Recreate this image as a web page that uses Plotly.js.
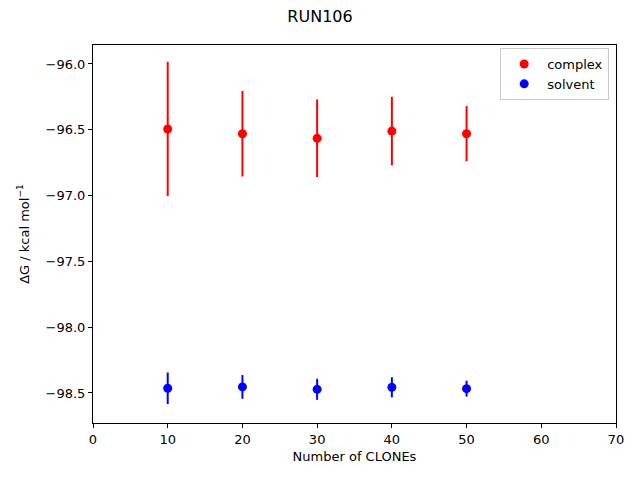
<!DOCTYPE html>
<html>
<head>
<meta charset="utf-8">
<script src="https://cdn.plot.ly/plotly-3.0.1.min.js"></script>
<style>html,body{margin:0;padding:0;background:#fff;}</style>
</head>
<body>
<div id="chart" style="width:640px;height:480px;"></div>
<script>
const clones = [10, 20, 30, 40, 50];
const complexDG = [-96.494, -96.53, -96.565, -96.51, -96.53];
const complexErr = [0.51, 0.325, 0.295, 0.26, 0.21];
const solventDG = [-98.464, -98.454, -98.472, -98.457, -98.467];
const solventErr = [0.12, 0.09, 0.08, 0.076, 0.06];

const font = {family: 'DejaVu Sans', size: 13, color: '#000'};

const traces = [
  {
    x: clones, y: complexDG, name: 'complex', type: 'scatter', mode: 'markers',
    marker: {color: 'red', size: 9},
    error_y: {type: 'data', array: complexErr, visible: true, color: 'red', thickness: 2, width: 0}
  },
  {
    x: clones, y: solventDG, name: 'solvent', type: 'scatter', mode: 'markers',
    marker: {color: 'blue', size: 9},
    error_y: {type: 'data', array: solventErr, visible: true, color: 'blue', thickness: 2, width: 0}
  }
];

const layout = {
  width: 640, height: 480,
  margin: {l: 93, r: 24, t: 45, b: 57},
  paper_bgcolor: '#fff', plot_bgcolor: '#fff',
  font: font,
  title: {text: 'RUN106', font: {family: 'DejaVu Sans', size: 16, color: '#000'}, x: 0.5, xanchor: 'center', y: 0.965, yanchor: 'middle'},
  showlegend: true,
  legend: {
    x: 0.987, y: 0.992, xanchor: 'right', yanchor: 'top',
    bgcolor: '#fff', bordercolor: '#cccccc', borderwidth: 1,
    font: {family: 'DejaVu Sans', size: 13, color: '#000'},
    itemwidth: 36
  },
  xaxis: {
    range: [0, 70], tickvals: [0, 10, 20, 30, 40, 50, 60, 70],
    ticks: 'outside', ticklen: 4, tickcolor: '#000', tickwidth: 1,
    showline: true, linecolor: '#000', linewidth: 1, mirror: true,
    showgrid: false, zeroline: false,
    title: {text: 'Number of CLONEs', font: {family: 'DejaVu Sans', size: 13, color: '#000'}, standoff: 6},
    tickfont: font
  },
  yaxis: {
    range: [-98.728, -95.856], tickvals: [-98.5, -98.0, -97.5, -97.0, -96.5, -96.0],
    ticktext: ['−98.5', '−98.0', '−97.5', '−97.0', '−96.5', '−96.0'],
    ticks: 'outside', ticklen: 4, tickcolor: '#000', tickwidth: 1,
    showline: true, linecolor: '#000', linewidth: 1, mirror: true,
    showgrid: false, zeroline: false,
    title: {text: 'ΔG / kcal mol<sup>−1</sup>', font: {family: 'DejaVu Sans', size: 13, color: '#000'}, standoff: 13},
    tickfont: font
  }
};

Plotly.newPlot('chart', traces, layout, {displayModeBar: false, staticPlot: true});
</script>
</body>
</html>
